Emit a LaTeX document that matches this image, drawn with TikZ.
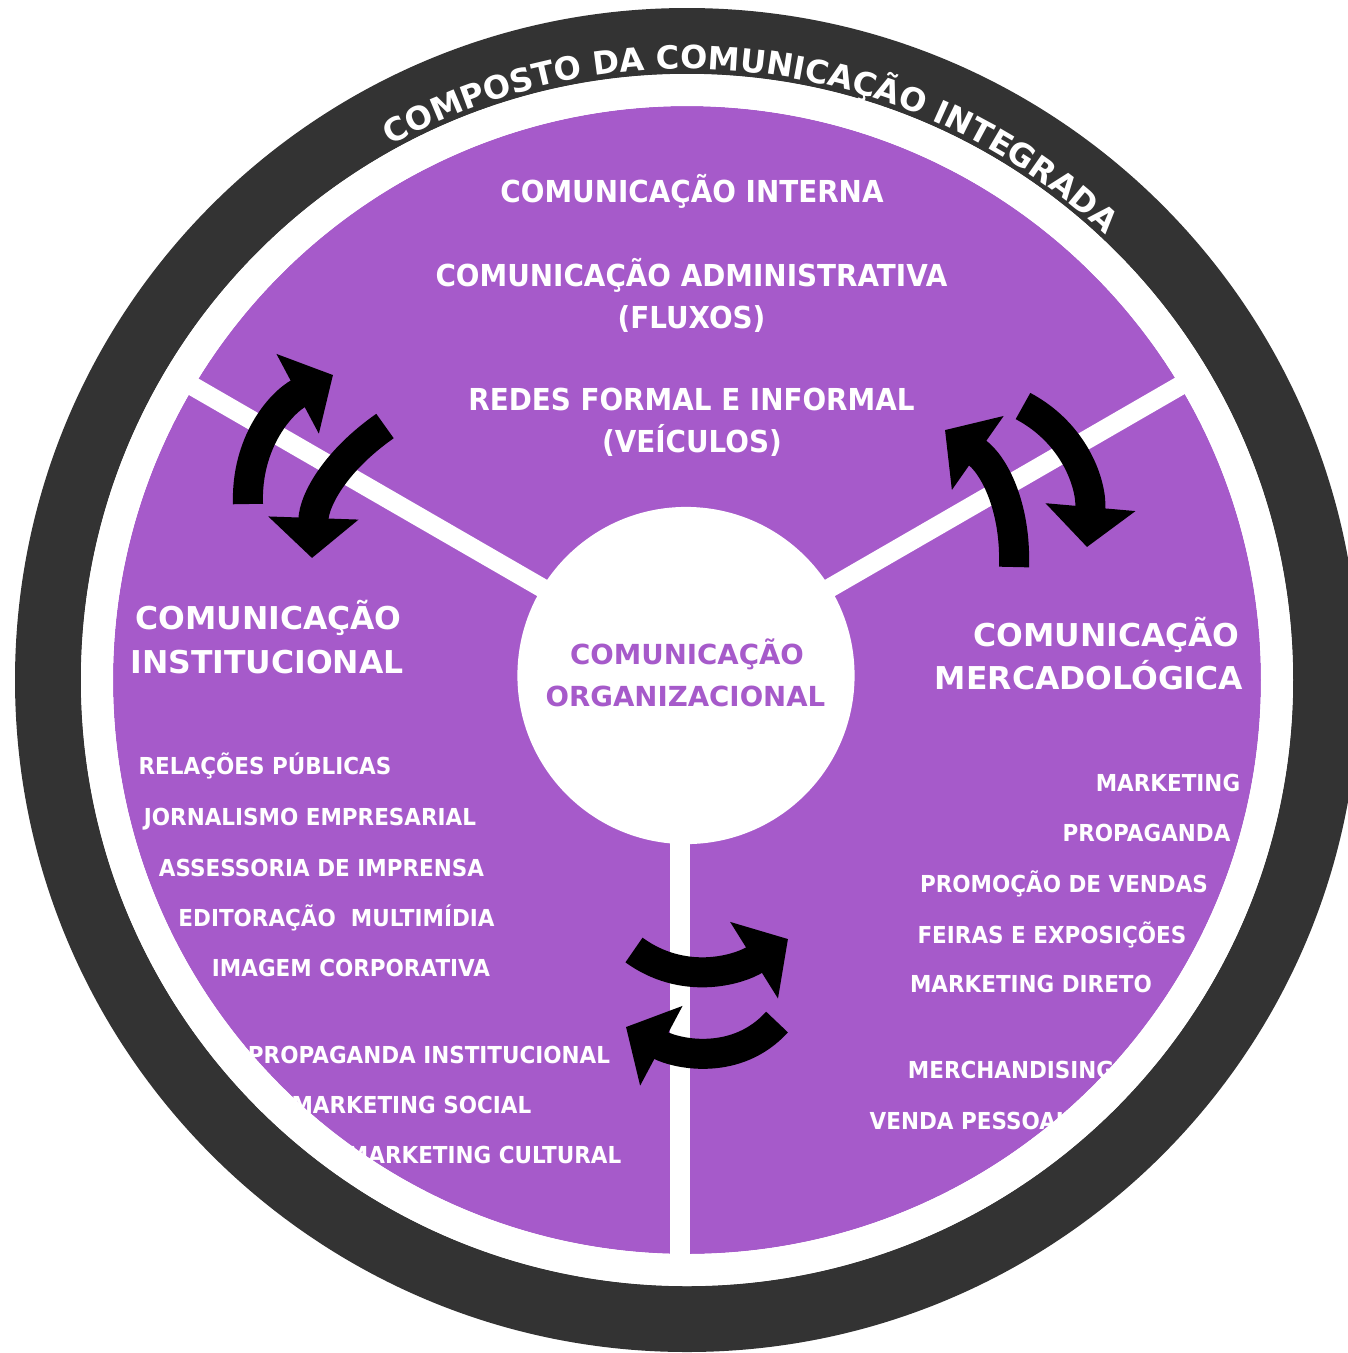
\documentclass[tikz,border=0pt]{standalone}
\usepackage{fontspec}
\setmainfont{DejaVu Sans}
\newfontfamily\narrowfont{DejaVu Sans}[FakeStretch=0.92]
\usetikzlibrary{arrows.meta,decorations.text}

\definecolor{roxo}{RGB}{166,90,202}
\definecolor{anel}{RGB}{51,51,51}
\newcommand{\titlestyle}{\color{white}\bfseries\fontsize{9.1}{11}\selectfont}

\tikzset{
  cabeca/.style={text=white, font=\bfseries\fontsize{8.95}{10}\selectfont, inner sep=0pt, anchor=base},
  topo/.style={text=white, font=\narrowfont\bfseries\fontsize{8.6}{10}\selectfont, inner sep=0pt, anchor=base},
  item/.style={text=white, font=\narrowfont\bfseries\fontsize{6.65}{8}\selectfont, inner sep=0pt, anchor=base},
  centro/.style={text=roxo, font=\bfseries\fontsize{7.85}{9}\selectfont, inner sep=0pt, anchor=base},
  giro/.style={line width=0.3cm, -{Triangle[width=0.88cm,length=0.4cm]}},
  divisor/.style={white, line width=0.19cm}
}

\begin{document}
\begin{tikzpicture}[x=0.01cm, y=0.01cm]
    \useasboundingbox (0,0) rectangle (1348,-1353);
    \coordinate (meio) at (687,-680);
    \coordinate (cruz) at (686,-671);

    % rings and the three sectors
    \fill [anel] (meio) circle [radius=672];
    \fill [white] (meio) circle [radius=606];
    \fill [roxo] (meio) circle [radius=574];
    \draw [divisor] (cruz) -- ++(150:595);
    \draw [divisor] (cruz) -- ++(30:595);
    \draw [divisor] (680,-671) -- (680,-1268);
    \node (nucleo) [circle, fill=white, minimum size=3.37cm, inner sep=0pt] at (686,-675.5) {};

    % centre
    \node (org1) [centro] at (687, -664) {COMUNICAÇÃO};
    \node (org2) [centro] at (685.5, -706) {ORGANIZACIONAL};

    % top sector
    \node (int1) [topo] at (692, -202) {COMUNICAÇÃO INTERNA};
    \node (int2) [topo] at (691.5, -286) {COMUNICAÇÃO ADMINISTRATIVA};
    \node (int3) [topo] at (691.5, -328) {(FLUXOS)};
    \node (int4) [topo] at (691.5, -410) {REDES FORMAL E INFORMAL};
    \node (int5) [topo] at (692, -452) {(VEÍCULOS)};

    % left sector
    \node (ins1) [cabeca] at (268.5, -629) {COMUNICAÇÃO};
    \node (ins2) [cabeca] at (267, -673) {INSTITUCIONAL};
    \node (rp) [item] at (265, -774) {RELAÇÕES PÚBLICAS};
    \node (jor) [item] at (310, -825) {JORNALISMO EMPRESARIAL};
    \node (ass) [item] at (321.5, -876) {ASSESSORIA DE IMPRENSA};
    \node (edi) [item] at (336.5, -926) {EDITORAÇÃO~ MULTIMÍDIA};
    \node (ima) [item] at (351, -976) {IMAGEM CORPORATIVA};
    \node (pin) [item] at (429, -1063) {PROPAGANDA INSTITUCIONAL};
    \node (msoc) [item, anchor=base east] at (532, -1113) {MARKETING SOCIAL};
    \node (mcul) [item, anchor=base east] at (622, -1163) {MARKETING CULTURAL};

    % right sector
    \node (mer1) [cabeca] at (1106.5, -646) {COMUNICAÇÃO};
    \node (mer2) [cabeca] at (1089, -689) {MERCADOLÓGICA};
    \node (mkt) [item] at (1168, -791) {MARKETING};
    \node (prop) [item] at (1146.5, -841) {PROPAGANDA};
    \node (prom) [item] at (1064, -892) {PROMOÇÃO DE VENDAS};
    \node (fei) [item] at (1052, -943) {FEIRAS E EXPOSIÇÕES};
    \node (mdir) [item] at (1031, -992) {MARKETING DIRETO};
    \node (mch) [item] at (1011, -1078) {MERCHANDISING};
    \node (vp) [item, anchor=base west] at (869, -1129) {VENDA PESSOAL};

    % white ring over the ends of the texts
    \fill [white, even odd rule] (meio) circle [radius=606] circle [radius=574];

    % exchange arrows
    \coordinate (a1) at (248,-504);  \coordinate (a2) at (333,-375);
    \coordinate (b1) at (385,-426);  \coordinate (b2) at (312,-558);
    \coordinate (c1) at (1014,-567); \coordinate (c2) at (945,-430);
    \coordinate (d1) at (1023,-406); \coordinate (d2) at (1087,-547);
    \coordinate (e1) at (634,-950);  \coordinate (e2) at (788,-939);
    \coordinate (f1) at (777,-1022); \coordinate (f2) at (626,-1027);
    \draw [giro] (a1) to [out=92, in=208] (a2);
    \draw [giro] (b1) to [out=215, in=88] (b2);
    \draw [giro] (c1) to [out=88, in=325] (c2);
    \draw [giro] (d1) to [out=-28, in=85] (d2);
    \draw [giro] (e1) to [out=-36, in=212] (e2);
    \draw [giro] (f1) to [out=228, in=-28] (f2);

    % title on the dark ring
    \path [decorate, shift={(687,-680)},
        decoration={text along path, text align=left,
        text={|\titlestyle|COMPOSTO DA COMUNICAÇÃO INTEGRADA}}]
        (119:611) arc [start angle=119, end angle=25, radius=611];
\end{tikzpicture}
\end{document}
